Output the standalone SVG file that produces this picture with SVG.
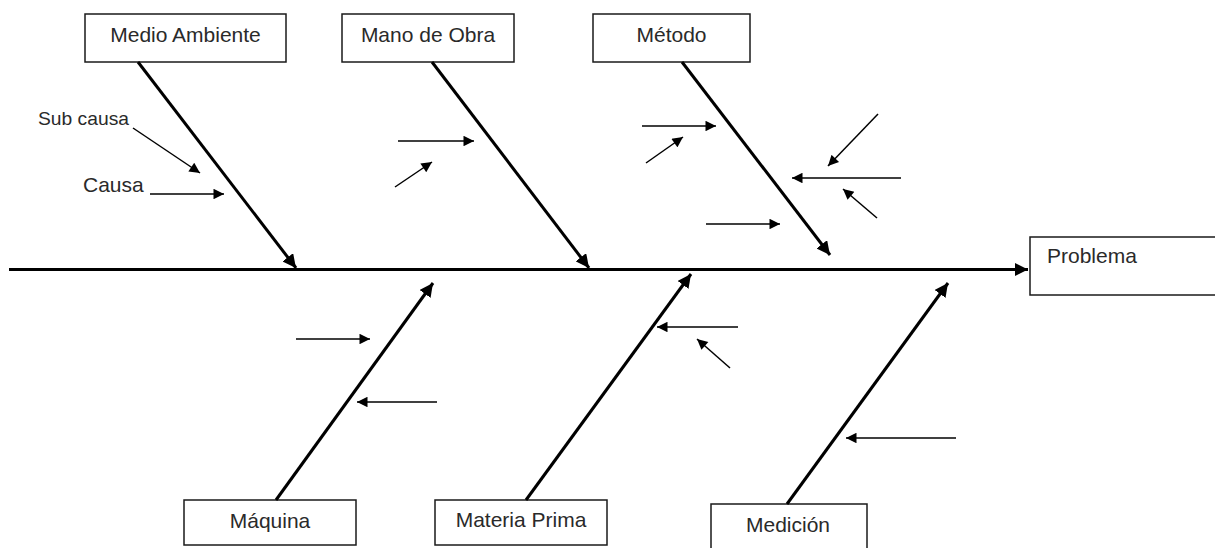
<svg xmlns="http://www.w3.org/2000/svg" width="1215" height="548" viewBox="0 0 1215 548">
  <style>
    .box { fill: #ffffff; stroke: #1a1a1a; stroke-width: 1.5; }
    .lbl { font-family: "Liberation Sans", Arial, sans-serif; font-size: 21px; fill: #2a2a2a; }
    .bone { stroke: #000000; stroke-width: 3; fill: none; }
    .spine { stroke: #000000; stroke-width: 3; fill: none; }
    .sub { stroke: #000000; stroke-width: 1.5; fill: none; }
  </style>
  <defs>
    <marker id="headBig" viewBox="0 0 10 10" refX="10" refY="5" markerWidth="4.5" markerHeight="4.5" markerUnits="strokeWidth" orient="auto">
      <path d="M0,0 L10,5 L0,10 Z" fill="#000"/>
    </marker>
    <marker id="headSmall" viewBox="0 0 10 10" refX="10" refY="5" markerWidth="8" markerHeight="7" markerUnits="strokeWidth" orient="auto">
      <path d="M0,0 L10,5 L0,10 Z" fill="#000"/>
    </marker>
  </defs>

  <rect width="1215" height="548" fill="#ffffff"/>

  <!-- category boxes -->
  <g id="medio-ambiente">
    <rect class="box" x="85" y="14" width="201" height="48"/>
    <text class="lbl" x="185.5" y="42" text-anchor="middle">Medio Ambiente</text>
  </g>
  <g id="mano-de-obra">
    <rect class="box" x="342" y="14" width="172" height="48"/>
    <text class="lbl" x="428" y="42" text-anchor="middle">Mano de Obra</text>
  </g>
  <g id="metodo">
    <rect class="box" x="593" y="14" width="157" height="48"/>
    <text class="lbl" x="671.5" y="42" text-anchor="middle">Método</text>
  </g>
  <g id="maquina">
    <rect class="box" x="184" y="500" width="172" height="45"/>
    <text class="lbl" x="270" y="528" text-anchor="middle">Máquina</text>
  </g>
  <g id="materia-prima">
    <rect class="box" x="435" y="500" width="172" height="45"/>
    <text class="lbl" x="521" y="527" text-anchor="middle">Materia Prima</text>
  </g>
  <g id="medicion">
    <rect class="box" x="711" y="504" width="156" height="60"/>
    <text class="lbl" x="788" y="532" text-anchor="middle">Medición</text>
  </g>
  <g id="problema">
    <rect class="box" x="1030" y="237" width="200" height="58"/>
    <text class="lbl" x="1047" y="263">Problema</text>
  </g>

  <!-- legend labels -->
  <g id="legend">
    <text class="lbl" x="38" y="125" style="font-size:19px" textLength="91" lengthAdjust="spacingAndGlyphs">Sub causa</text>
    <text class="lbl" x="83" y="192">Causa</text>
  </g>

  <!-- connectors -->
  <g id="connectors">
    <!-- main spine -->
    <line class="spine" x1="9" y1="269.5" x2="1028" y2="269.5" marker-end="url(#headBig)"/>

    <!-- upper bones -->
    <line class="bone" x1="138" y1="62" x2="296" y2="268" marker-end="url(#headBig)"/>
    <line class="bone" x1="432" y1="62" x2="589" y2="268" marker-end="url(#headBig)"/>
    <line class="bone" x1="682" y1="62" x2="830" y2="255" marker-end="url(#headBig)"/>

    <!-- lower bones -->
    <line class="bone" x1="276" y1="500" x2="433" y2="283" marker-end="url(#headBig)"/>
    <line class="bone" x1="526" y1="500" x2="691" y2="274" marker-end="url(#headBig)"/>
    <line class="bone" x1="787" y1="504" x2="948" y2="283" marker-end="url(#headBig)"/>

    <!-- legend arrows -->
    <line class="sub" x1="133" y1="128" x2="200" y2="173" marker-end="url(#headSmall)"/>
    <line class="sub" x1="150" y1="194" x2="224" y2="194" marker-end="url(#headSmall)"/>

    <!-- Mano de Obra causes -->
    <line class="sub" x1="398" y1="141" x2="474" y2="141" marker-end="url(#headSmall)"/>
    <line class="sub" x1="395" y1="187" x2="432" y2="162" marker-end="url(#headSmall)"/>

    <!-- Método causes -->
    <line class="sub" x1="642" y1="126" x2="716" y2="126" marker-end="url(#headSmall)"/>
    <line class="sub" x1="646" y1="163" x2="683" y2="137" marker-end="url(#headSmall)"/>
    <line class="sub" x1="706" y1="224" x2="780" y2="224" marker-end="url(#headSmall)"/>
    <line class="sub" x1="878" y1="114" x2="828" y2="166" marker-end="url(#headSmall)"/>
    <line class="sub" x1="901" y1="178" x2="792" y2="178" marker-end="url(#headSmall)"/>
    <line class="sub" x1="877" y1="218" x2="843" y2="189" marker-end="url(#headSmall)"/>

    <!-- Máquina causes -->
    <line class="sub" x1="296" y1="339" x2="370" y2="339" marker-end="url(#headSmall)"/>
    <line class="sub" x1="437" y1="402" x2="357" y2="402" marker-end="url(#headSmall)"/>

    <!-- Materia Prima causes -->
    <line class="sub" x1="738" y1="327" x2="657" y2="327" marker-end="url(#headSmall)"/>
    <line class="sub" x1="730" y1="368" x2="697" y2="339" marker-end="url(#headSmall)"/>

    <!-- Medición causes -->
    <line class="sub" x1="956" y1="438" x2="846" y2="438" marker-end="url(#headSmall)"/>
  </g>
</svg>
